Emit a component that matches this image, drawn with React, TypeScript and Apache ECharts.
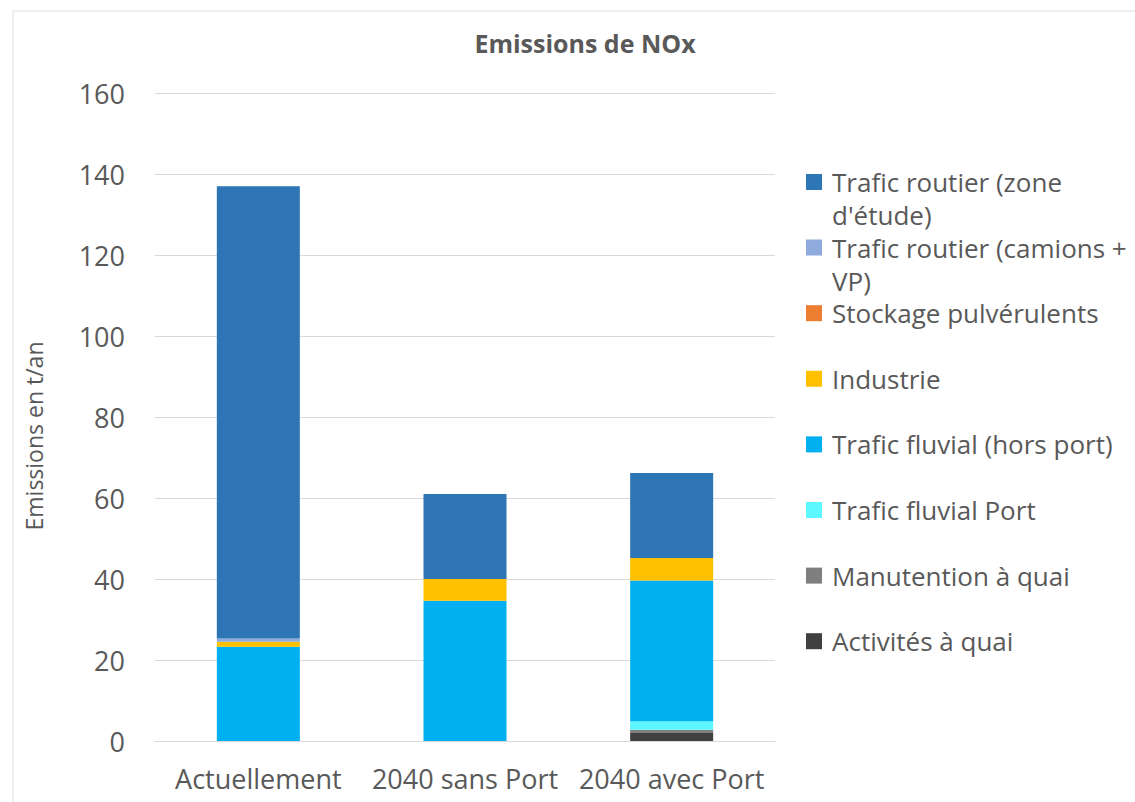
import React, { useEffect, useRef } from "react";
import * as echarts from "echarts";

const categories = ["Actuellement", "2040 sans Port", "2040 avec Port"];

// stacked from bottom to top
const activitesQuai = [0, 0, 2.0];
const manutentionQuai = [0, 0, 0.8];
const fluvialPort = [0, 0, 2.1];
const fluvialHorsPort = [23.3, 34.6, 34.7];
const industrie = [1.2, 5.4, 5.6];
const stockage = [0, 0, 0];
const camionsVP = [0.8, 0, 0];
const zoneEtude = [111.7, 21.0, 21.0];

const yMin = 0;
const yMax = 160;
const yStep = 20;

const seriesDefs = [
  { name: "Activités à quai", label: "Activités à quai", data: activitesQuai, color: "#404040" },
  { name: "Manutention à quai", label: "Manutention à quai", data: manutentionQuai, color: "#7F7F7F" },
  { name: "Trafic fluvial Port", label: "Trafic fluvial Port", data: fluvialPort, color: "#5CF7FF" },
  { name: "Trafic fluvial (hors port)", label: "Trafic fluvial (hors port)", data: fluvialHorsPort, color: "#00B0F0" },
  { name: "Industrie", label: "Industrie", data: industrie, color: "#FFC000" },
  { name: "Stockage pulvérulents", label: "Stockage pulvérulents", data: stockage, color: "#ED7D31" },
  { name: "Trafic routier (camions + VP)", label: "Trafic routier (camions +\nVP)", data: camionsVP, color: "#8FAADC" },
  { name: "Trafic routier (zone d'étude)", label: "Trafic routier (zone\nd'étude)", data: zoneEtude, color: "#2E75B6" },
];

const FONT = "Open Sans";
const TXT = "#595959";

export default function App() {
  const ref = useRef<HTMLDivElement>(null);
  useEffect(() => {
    if (!ref.current) return;
    const chart = echarts.init(ref.current, null, { renderer: "svg" });
    const legendOrder = [...seriesDefs].reverse();
    const L = 33;
    // icon for two-line entries: square aligned with the first text line
    const topSquareIcon =
      "path://M0,0L0.01,0L0.01,0.01Z M0,8.5L16,8.5L16,24.5L0,24.5Z M0,65.99L0.01,66L0,66Z";
    const legends = legendOrder.map((s, i) => {
      const twoLines = s.label.indexOf("\n") >= 0;
      const center = 182 + i * 65.6;
      return {
        orient: "vertical",
        left: 806,
        top: center - L / 2,
        padding: 0,
        selectedMode: false,
        icon: twoLines ? topSquareIcon : "rect",
        itemWidth: 16,
        itemHeight: twoLines ? 2 * L : 16,
        symbolKeepAspect: false,
        data: [s.name],
        formatter: () => s.label,
        textStyle: {
          fontFamily: FONT,
          fontSize: 26,
          color: TXT,
          lineHeight: L,
          padding: [0, 0, 0, 5],
        },
      };
    });
    chart.setOption({
      animation: false,
      backgroundColor: "#ffffff",
      title: {
        text: "Emissions de NOx",
        left: 585,
        textAlign: "center",
        top: 30,
        padding: 0,
        textStyle: { fontFamily: FONT, fontSize: 25, fontWeight: "bold", color: TXT },
      },
      legend: legends,
      grid: { left: 155, right: 360, top: 93, bottom: 61, containLabel: false },
      xAxis: {
        type: "category",
        data: categories,
        axisLine: { lineStyle: { color: "#D9D9D9", width: 1 } },
        axisTick: { show: false },
        axisLabel: { fontFamily: FONT, fontSize: 27, color: TXT, margin: 24, interval: 0 },
      },
      yAxis: {
        type: "value",
        min: yMin,
        max: yMax,
        interval: yStep,
        name: "Emissions en t/an",
        nameLocation: "middle",
        nameGap: 110,
        nameTextStyle: { fontFamily: FONT, fontSize: 23, color: TXT, padding: [0, 38, 0, 0] },
        axisLine: { show: false },
        axisTick: { show: false },
        axisLabel: { fontFamily: FONT, fontSize: 27, color: TXT, margin: 30 },
        splitLine: { lineStyle: { color: "#D9D9D9", width: 1 } },
      },
      series: seriesDefs.map((s) => ({
        name: s.name,
        type: "bar",
        stack: "total",
        barWidth: 83,
        data: s.data,
        itemStyle: { color: s.color },
      })),
      graphic: [
        {
          type: "rect",
          shape: { x: 13, y: 11, width: 1200, height: 900 },
          style: { fill: "none", stroke: "#DDDDDD", lineWidth: 1 },
          silent: true,
        },
      ],
    });
    return () => chart.dispose();
  }, []);
  return (
    <div
      ref={ref}
      style={{ position: "absolute", left: 0, top: 0, width: 1135, height: 802 }}
    />
  );
}
